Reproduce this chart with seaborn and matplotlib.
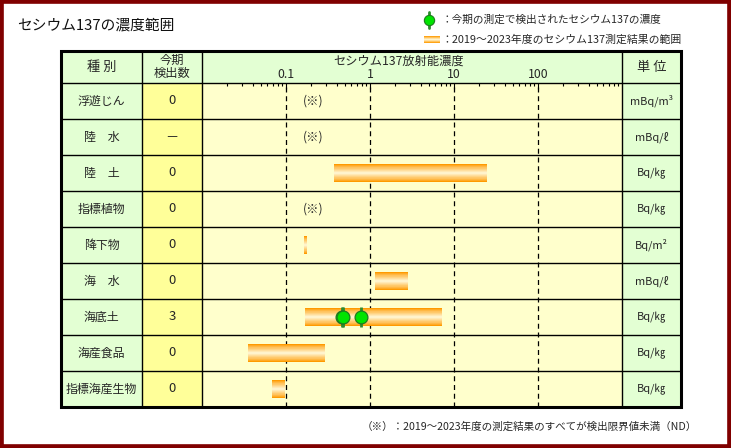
import numpy as np
import pandas as pd
import matplotlib
matplotlib.use('Agg')
import matplotlib.pyplot as plt
import seaborn as sns
from matplotlib.patches import Rectangle
from matplotlib.colors import to_rgb
from matplotlib.ticker import LogLocator, NullFormatter

# ---------------- data ----------------
categories = ['浮遊じん', '陸　水', '陸　土', '指標植物', '降下物', '海　水', '海底土', '海産食品', '指標海産生物']
counts = ['0', '－', '0', '0', '0', '0', '3', '0', '0']
units = ['mBq/m³', 'mBq/ℓ', 'Bq/㎏', 'Bq/㎏', 'Bq/m²', 'mBq/ℓ', 'Bq/㎏', 'Bq/㎏', 'Bq/㎏']
range_low = [np.nan, np.nan, 0.37, np.nan, 0.164, 1.15, 0.168, 0.035, 0.068]
range_high = [np.nan, np.nan, 25.0, np.nan, 0.178, 2.8, 7.2, 0.29, 0.098]
nd_rows = ['浮遊じん', '陸　水', '指標植物']
detected_cat = ['海底土', '海底土', '海底土']
detected_val = [0.47, 0.48, 0.78]
tick_values = [0.1, 1, 10, 100]
tick_labels = ['0.1', '1', '10', '100']

title = 'セシウム137の濃度範囲'
header_cat = '種 別'
header_cnt = '今期\n検出数'
header_axis = 'セシウム137放射能濃度'
header_unit = '単 位'
legend_point = '：今期の測定で検出されたセシウム137の濃度'
legend_range = '：2019～2023年度のセシウム137測定結果の範囲'
footnote = '（※）：2019～2023年度の測定結果のすべてが検出限界値未満（ND）'
nd_mark = '(※)'
nd_x = 0.21

sns.set_theme(style='white')
plt.rcParams['font.family'] = ['Noto Sans CJK JP', 'DejaVu Sans']

W, H = 731, 448
fig = plt.figure(figsize=(W / 100, H / 100), dpi=100)
fig.patch.set_facecolor('white')

bg = fig.add_axes([0, 0, 1, 1])
bg.set_xlim(0, W)
bg.set_ylim(H, 0)
bg.axis('off')

GREEN = '#E3FFD3'
YELLOW = '#FFFF99'
PLOTBG = '#FFFFCC'
ORANGE = np.array(to_rgb('#FF9A00'))
PALE = np.array(to_rgb('#FFF3CC'))

# column / row geometry (pixels)
x0, x1, x2, x3, x4 = 61, 142, 202, 622, 681
y_top, y_head = 51, 83
row_h = 36
n = len(categories)
y_bot = y_head + row_h * n

# cell backgrounds
bg.add_patch(Rectangle((x0, y_top), x4 - x0, y_head - y_top, facecolor=GREEN, edgecolor='none'))
bg.add_patch(Rectangle((x0, y_head), x1 - x0, y_bot - y_head, facecolor=GREEN, edgecolor='none'))
bg.add_patch(Rectangle((x1, y_head), x2 - x1, y_bot - y_head, facecolor=YELLOW, edgecolor='none'))
bg.add_patch(Rectangle((x2, y_head), x3 - x2, y_bot - y_head, facecolor=PLOTBG, edgecolor='none'))
bg.add_patch(Rectangle((x3, y_head), x4 - x3, y_bot - y_head, facecolor=GREEN, edgecolor='none'))

# grid lines of the table
for i in range(n):
    yy = y_head + row_h * i
    bg.plot([x0, x4], [yy, yy], color='black', lw=1.0, zorder=3)
for xx in (x1, x2, x3):
    bg.plot([xx, xx], [y_top, y_bot], color='black', lw=1.0, zorder=3)
bg.add_patch(Rectangle((x0, y_top), x4 - x0, y_bot - y_top, fill=False,
                       edgecolor='black', lw=2.2, zorder=4))

# outer dark red frame
bg.add_patch(Rectangle((0, 0), W, H, fill=False, edgecolor='#800000', lw=5.5, zorder=5))

# texts
bg.text(17, 26, title, fontsize=10.6, ha='left', va='center', color='#111111')
bg.text((x0 + x1) / 2, (y_top + y_head) / 2, header_cat, fontsize=9.5, ha='center', va='center')
bg.text((x1 + x2) / 2, (y_top + y_head) / 2, header_cnt, fontsize=8.8, ha='center', va='center',
        linespacing=1.05)
bg.text(399, 61, header_axis, fontsize=8.8, ha='center', va='center')
bg.text((x3 + x4) / 2, (y_top + y_head) / 2, header_unit, fontsize=9.5, ha='center', va='center')

for i, (cat, cnt, un) in enumerate(zip(categories, counts, units)):
    yc = y_head + row_h * i + row_h / 2
    bg.text((x0 + x1) / 2, yc, cat, fontsize=8.6, ha='center', va='center')
    bg.text((x1 + x2) / 2, yc, cnt, fontsize=9.5, ha='center', va='center')
    bg.text((x3 + x4) / 2, yc, un, fontsize=7.9, ha='center', va='center')

bg.text(697, 427, footnote, fontsize=7.6, ha='right', va='center')

# legend
bg.plot([429, 429], [12, 28], color='#2D8A2D', lw=2.0, zorder=6)
bg.scatter([429], [20], s=55, color='#00E400', edgecolor='#1E7A1E', linewidth=0.8, zorder=7)
bg.text(441, 20, legend_point, fontsize=7.7, ha='left', va='center')
lv = np.linspace(1.0, 0.08, 10)
for k, f in enumerate(lv):
    t = k / (len(lv) - 1)
    c = ORANGE * (1 - t) + PALE * t
    hh = 7.5 * f
    bg.add_patch(Rectangle((424, 39.5 - hh / 2), 16, hh, facecolor=c, edgecolor='none', zorder=6))
bg.text(441, 39.5, legend_range, fontsize=7.8, ha='left', va='center')

# ---------------- data axes ----------------
ax = fig.add_axes([x2 / W, 1 - y_bot / H, (x3 - x2) / W, (y_bot - y_head) / H])
ax.patch.set_alpha(0)
ax.set_xscale('log')

df = pd.DataFrame({'cat': categories, 'lo': range_low, 'hi': range_high})
df['pos'] = np.arange(n)
ranges = df.dropna()

levels = np.linspace(0.5, 0.03, 16)
for k, h in enumerate(levels):
    t = (k / (len(levels) - 1)) ** 0.85
    col = ORANGE * (1 - t) + PALE * t
    ax.barh(ranges['pos'], ranges['hi'] - ranges['lo'], left=ranges['lo'], height=h,
            color=col, linewidth=0, zorder=3)

for cat in nd_rows:
    ax.text(nd_x, categories.index(cat), nd_mark, fontsize=8.8, ha='center', va='center')

det = pd.DataFrame({'val': detected_val, 'pos': [categories.index(c) for c in detected_cat]})
ax.vlines(det['val'], det['pos'] - 0.29, det['pos'] + 0.29, color='#2D8A2D', lw=2.0, zorder=4)
sns.scatterplot(data=det, x='val', y='pos', s=85, color='#00E400', edgecolor='#1E7A1E',
                linewidth=0.9, ax=ax, zorder=5, legend=False)

ax.set_xlim(0.01, 1000)
ax.set_ylim(n - 0.5, -0.5)
ax.set_xlabel('')
ax.set_ylabel('')
for s in ax.spines.values():
    s.set_visible(False)

ax.xaxis.tick_top()
ax.set_xticks(tick_values, labels=tick_labels)
ax.xaxis.set_minor_locator(LogLocator(base=10, subs=np.arange(2, 10), numticks=20))
ax.xaxis.set_minor_formatter(NullFormatter())
ax.tick_params(axis='x', which='major', direction='in', length=4, width=0.8, pad=1.5,
               labelsize=8.8, top=True, bottom=False, labeltop=True, labelbottom=False,
               color='black')
ax.tick_params(axis='x', which='minor', direction='in', length=2.5, width=0.8,
               top=True, bottom=False, color='black')
ax.tick_params(axis='y', left=False, right=False, labelleft=False)
ax.grid(True, axis='x', which='major', color='black', linestyle=(0, (4, 3)), linewidth=0.9)
ax.grid(False, axis='x', which='minor')
ax.grid(False, axis='y')

fig.savefig('out.png', dpi=100)
